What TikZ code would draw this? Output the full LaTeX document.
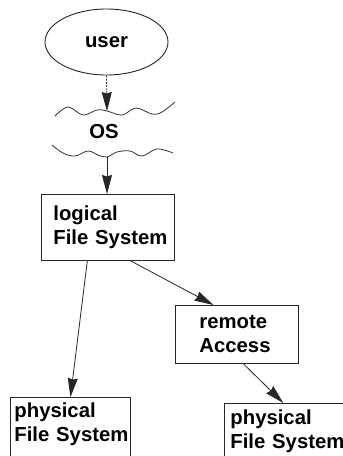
\documentclass[tikz,border=0pt]{standalone}
\usepackage{fontspec}
\setmainfont{Liberation Sans}
\usetikzlibrary{shapes.geometric,arrows.meta,calc}
\begin{document}
\begin{tikzpicture}[x=1pt,y=-1pt,
  font=\fontsize{20.3}{24.5}\selectfont\bfseries,
  ink/.style={draw=black!85, line width=0.9pt},
  box/.style={ink, rectangle, anchor=north west, inner ysep=0pt, align=left},
  link/.style={draw=black!85, line width=0.8pt,
    -{Stealth[length=19pt,width=10pt,inset=1.5pt]}},
  wave/.style={draw=black!80, line width=0.8pt}]
\fill[white] (0,0) rectangle (343,456);
\useasboundingbox (0,0) rectangle (343,456);
\clip (0,0) rectangle (343,456);

% user and the operating system layer
\node[ink, ellipse, minimum width=123pt, minimum height=66pt, inner sep=0pt]
  (user) at (106.5,42) {user};
\node (os) at (104,132) {OS};
\draw[wave] plot[smooth, tension=0.6] coordinates {(55,116) (68,107) (83,115)
  (97,110) (107,111) (122,115) (136,108) (152,114) (162,112) (175,102)};
\draw[wave] plot[smooth, tension=0.6] coordinates {(52,145) (63,153) (75,156)
  (88,151) (98,155) (107,157) (117,152) (130,151) (142,156) (157,149) (173,153)};
\coordinate (w1) at (107,111);
\coordinate (w2) at (107,157);

% file system boxes
\node[box, inner xsep=12pt, text width=109pt, text height=26pt, text depth=40pt]
  (lfs) at (41,194) {logical\\\mbox{File System}};
\node[box, inner xsep=24pt, text width=75pt, text height=23pt, text depth=35pt]
  (ra) at (175,305) {remote\\Access};
\node[box, inner xsep=4pt, text width=112pt, text height=20pt, text depth=55pt]
  (pfs1) at (10,397) {physical\\\mbox{File System}};
\node[box, inner xsep=6pt, text width=130pt, text height=21pt, text depth=55pt]
  (pfs2) at (224,403) {physical\\\mbox{File System}};

% connectors
\draw[link, dash pattern=on 2pt off 1.2pt] (user.south) -- (w1);
\draw[link] (w2) -- (w2 |- lfs.north);
\draw[link] ($(lfs.south west)!0.346!(lfs.south east)$)
  -- ($(pfs1.north west)!0.5!(pfs1.north east)$);
\draw[link] ($(lfs.south west)!0.67!(lfs.south east)$)
  -- ($(ra.north west)!0.31!(ra.north east)$);
\draw[link] ($(ra.south west)!0.553!(ra.south east)$)
  -- ($(pfs2.north west)!0.415!(pfs2.north east)$);
\end{tikzpicture}
\end{document}
